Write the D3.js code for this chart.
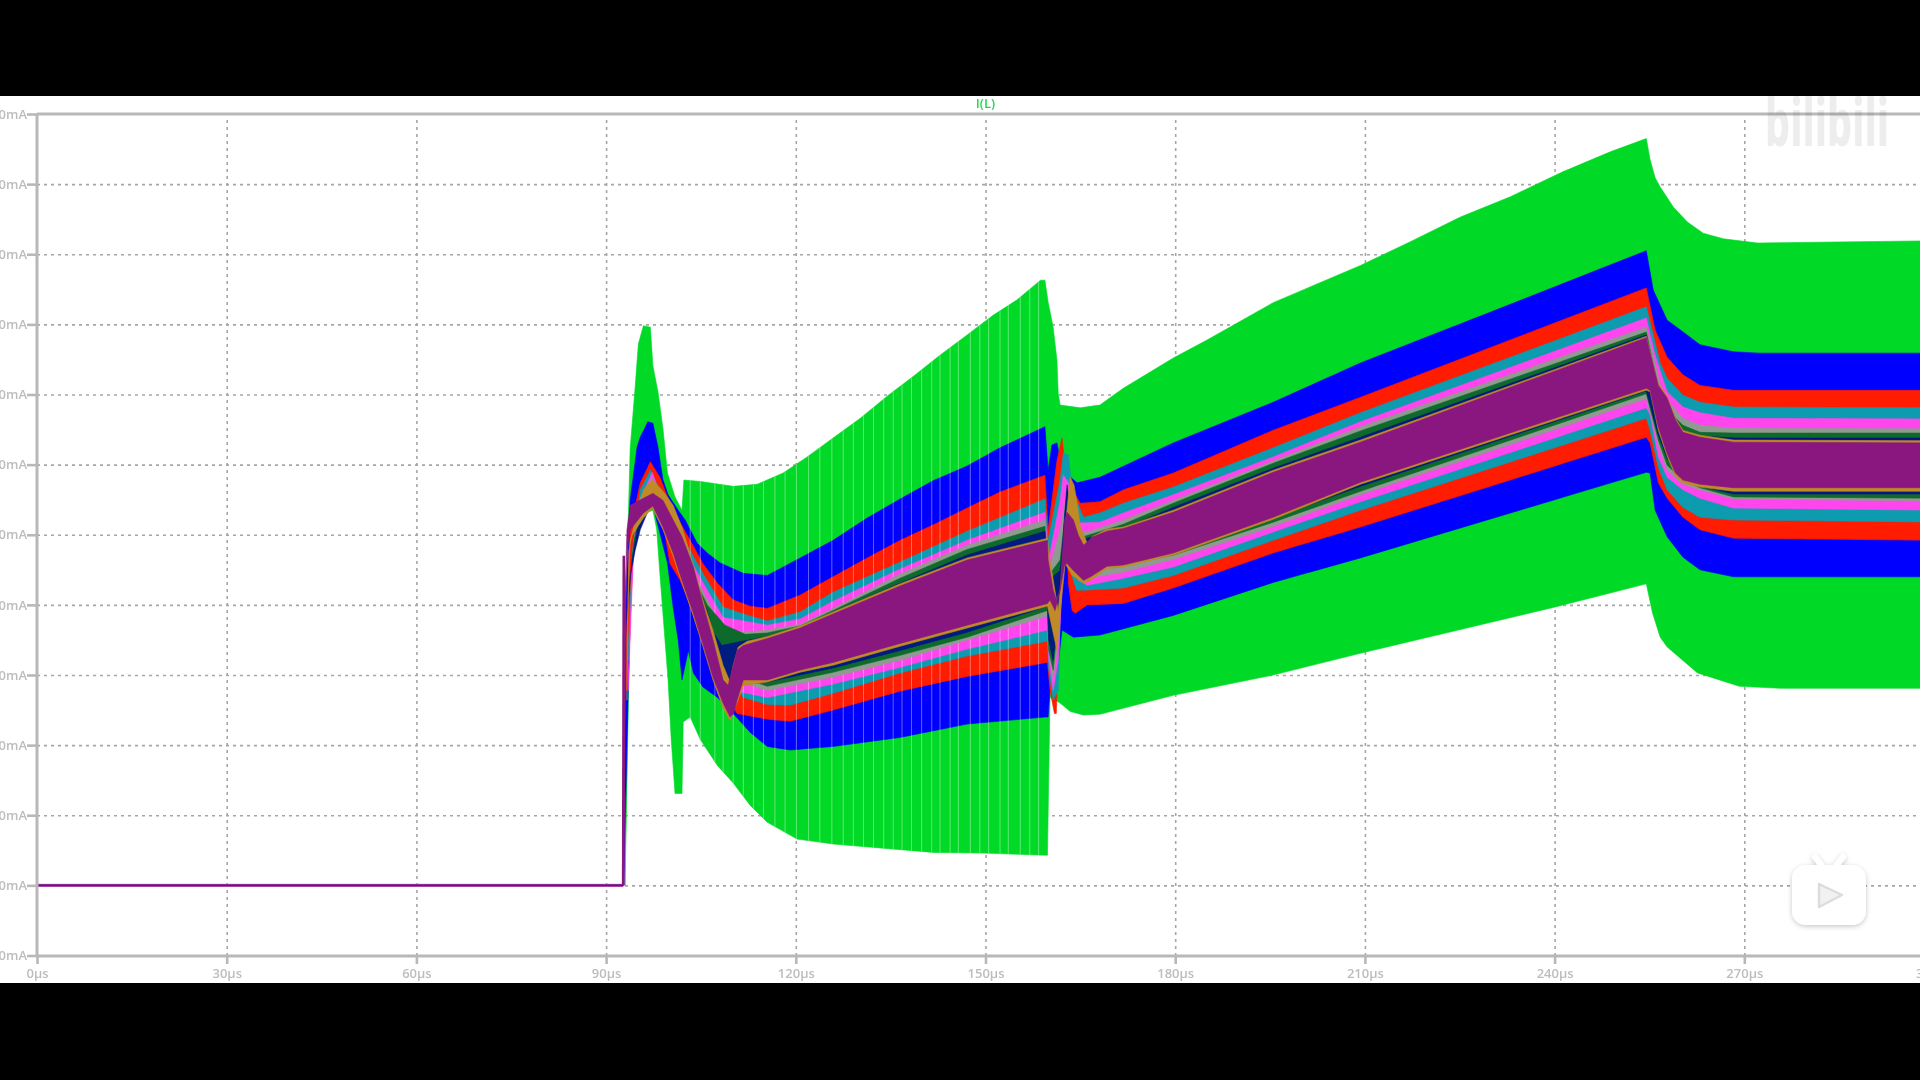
<!DOCTYPE html>
<html><head><meta charset="utf-8">
<script src="https://cdn.jsdelivr.net/npm/d3@7/dist/d3.min.js"></script>
<style>html,body{margin:0;padding:0;background:#000;overflow:hidden}svg{display:block}</style>
</head><body><svg id="c" width="1920" height="1080"></svg>
<script>
const title = "I(L)";
const xTicks = [0,30,60,90,120,150,180,210,240,270,300];
const yTicks = [1100,1000,900,800,700,600,500,400,300,200,100,0,-100];
const baselineTrace = [[0,0],[92.7,0]];
const riseTrace = [[92.7,0],[92.8,470]];
// switching-ripple gaps visible on the wide trace (µs)
const gapTimes = [103.3,104.9,107.2,108.5,110.1,111.7,113.3,114.9,116.7,118.3,120.1,122,123.8,125.7,127.5,129.1,130.7,132.3,133.9,135.4,136.8,138.3,139.9,141.5,142.8,144.4,145.7,147.6,149.1,150.5,152.3,153.6,155.5,157,158.4];

// envelopes: [time µs, current mA]
const greenUpper = [[93,0],[93.5,519],[93.8,622],[94.6,711],[95.1,772],[95.9,798],[97,796],[97.4,741],[98.2,704],[99,651],[99.7,588],[100.9,554],[102,535],[102.3,578],[104.9,576],[110.1,569],[113.9,572],[118,588],[121.8,611],[125.9,638],[130.2,666],[134.5,698],[138.6,726],[142.8,756],[147.1,785],[151.2,813],[155,835],[158.7,863],[159.4,863],[159.9,832],[160.7,796],[161.3,749],[161.5,702],[161.8,685],[165,681],[168.1,685],[171.8,709],[179.7,752],[185.1,778],[195.5,831],[209.3,884],[217.2,918],[225.1,953],[233,982],[240.9,1016],[248.8,1046],[254.5,1065],[255.1,1035],[255.9,1009],[256.7,996],[258.8,967],[261,946],[263.5,930],[266.7,922],[272.1,916],[297.8,919],[301,919]];
const greenLower = [[93,0],[93.5,245],[93.8,400],[94.3,492],[95.4,528],[97.4,535],[98,508],[98.5,445],[99.8,293],[100.3,208],[100.9,131],[102,131],[102.2,233],[103.3,240],[104.9,208],[107.6,171],[110.1,146],[112.8,114],[115.5,90],[120.2,66],[125.9,59],[133.8,53],[141.7,47],[149.6,46],[159.4,43],[159.8,43],[160.2,268],[161.8,260],[163.4,248],[165.5,243],[168.1,244],[179.7,271],[195.5,300],[209.3,331],[240.1,397],[248.8,417],[254.5,430],[255.5,388],[256.7,354],[257.8,340],[262.6,303],[269.2,284],[275.7,281],[301,281]];
const blueUpper = [[92.8,0],[93.1,407],[93.8,549],[94.9,625],[95.4,639],[96.6,661],[97.4,659],[98.2,625],[99,578],[99.8,557],[101.4,535],[102.5,521],[104.4,488],[106,474],[108,460],[111.7,445],[115.5,442],[120.7,467],[125.9,492],[131.3,524],[136.5,551],[141.7,577],[147.1,598],[152.3,624],[159.4,654],[159.9,592],[160.5,628],[161.3,631],[162.1,592],[164.5,574],[168.1,582],[179.7,631],[195.5,689],[209.3,745],[230.3,819],[254.5,905],[255.6,849],[257.8,806],[259.9,792],[263,771],[268.3,761],[272.5,759],[301,759]];
const blueLower = [[92.8,0],[93.5,278],[93.8,378],[94.1,464],[94.7,507],[95.7,521],[97.4,542],[99.7,460],[100.6,397],[101.4,350],[102,293],[103,335],[103.8,303],[105.3,283],[107.6,268],[110.1,245],[112.8,218],[115.5,198],[119.1,193],[125.9,198],[136.5,211],[147.1,230],[159.4,240],[159.9,240],[160.2,278],[161.2,293],[162.1,364],[163.9,354],[168.1,357],[179.7,385],[195.5,432],[209.3,467],[254.5,589],[255.1,588],[255.9,535],[257.8,497],[260.3,468],[263,450],[268.3,440],[301,440]];
const redUpper = [[93.2,350],[93.8,507],[95.4,574],[97,604],[98.5,582],[99.7,554],[101.2,525],[103.3,492],[105.3,459],[107.6,431],[110.1,407],[112.8,398],[115.5,395],[120.7,414],[125.9,440],[131.3,467],[136.5,492],[141.7,514],[147.1,538],[152.3,561],[159.4,585],[159.9,507],[161.3,606],[162.1,638],[162.8,578],[165,545],[168.1,547],[171.8,564],[179.7,588],[195.5,649],[209.3,696],[254.5,852],[255.9,792],[257.8,753],[260.3,728],[263,713],[268.3,706],[301,706]];
const redLower = [[93.2,278],[93.8,378],[94.4,492],[95.4,535],[97.4,549],[99.3,502],[100.1,459],[101.7,435],[102.8,411],[104.4,368],[106,331],[108.5,283],[110.7,245],[115.5,237],[119.1,234],[125.9,250],[136.5,277],[147.1,298],[159.8,318],[160.2,278],[160.9,245],[161.2,245],[161.5,350],[162.1,507],[162.8,521],[163.1,431],[163.7,392],[164.2,388],[166.1,400],[171.8,402],[179.7,424],[195.5,474],[209.3,511],[254.5,639],[255.1,631],[256.4,574],[257.8,552],[260.3,525],[263,507],[268.3,495],[301,492]];
const tealUpper = [[93.5,335],[94.1,464],[95.4,564],[97,592],[98.5,564],[101.2,511],[105.3,445],[108.5,397],[111.7,387],[115.5,377],[120.7,390],[125.9,418],[136.5,461],[147.1,505],[159.4,551],[159.9,492],[161.8,578],[162.3,616],[163.1,614],[163.7,564],[165.5,525],[168.1,531],[171.8,545],[179.7,568],[195.5,624],[209.3,674],[254.5,825],[256.7,745],[257.8,723],[260.3,699],[263,689],[268.3,682],[301,681]];
const tealLower = [[93.5,321],[94.3,492],[95.4,532],[97.4,552],[99.3,514],[101.7,449],[104.4,385],[107.2,321],[111.7,268],[115.5,258],[119.1,257],[125.9,274],[136.5,303],[147.1,327],[159.8,348],[160,307],[160.7,264],[161.5,278],[162.1,464],[162.8,507],[163.4,449],[164.4,421],[165.8,421],[171.8,424],[179.7,442],[195.5,492],[209.3,535],[254.5,666],[255.1,649],[256.4,596],[257.8,564],[260.3,539],[263,525],[268.3,521],[301,518]];
const magentaUpper = [[93.5,293],[94.1,449],[95.4,549],[97.3,589],[99.7,525],[102.2,482],[106,421],[108.5,382],[111.7,377],[115.5,371],[120.7,380],[125.9,405],[136.5,451],[147.1,492],[159.4,532],[160,464],[161.8,549],[162.3,585],[163.1,575],[163.7,517],[166.1,517],[168.1,518],[171.8,531],[179.7,557],[195.5,611],[209.3,661],[254.5,809],[255.9,756],[257.8,704],[260.3,682],[263,674],[268.3,666],[301,665]];
const magentaLower = [[93.5,278],[94.4,492],[95.4,535],[97.3,557],[99.3,528],[101.7,471],[104.4,407],[106.9,350],[110.1,278],[115.5,268],[125.9,287],[136.5,311],[147.1,337],[159.8,364],[160,321],[160.7,278],[161.5,321],[162.5,492],[162.9,542],[163.7,492],[164.7,435],[166.1,428],[171.8,438],[179.7,454],[195.5,504],[209.3,547],[254.5,681],[255.1,671],[256.4,611],[257.8,582],[260.3,564],[263,552],[268.3,538],[301,535]];
const grayUpper = [[94.1,464],[95.4,552],[97.3,581],[99.7,517],[102.2,474],[106,407],[108.5,364],[111.7,361],[115.5,364],[120.7,372],[125.9,395],[136.5,444],[147.1,485],[159.4,521],[160,449],[161.8,507],[162.8,557],[163.7,507],[166.1,504],[171.8,521],[179.7,549],[195.5,605],[209.3,654],[254.5,796],[256.7,714],[257.8,692],[260.3,666],[263,656],[268.3,652],[301,651]];
const grayLower = [[94.1,464],[94.4,492],[95.4,535],[97.3,561],[99.3,535],[101.7,478],[104.4,421],[106.9,361],[110.1,293],[115.5,278],[125.9,297],[136.5,321],[147.1,350],[159.8,384],[160,335],[160.7,293],[161.5,350],[162.5,507],[162.9,557],[163.7,507],[164.7,449],[166.1,438],[171.8,447],[179.7,465],[195.5,512],[209.3,557],[254.5,694],[256.4,628],[257.8,592],[260.3,572],[263,564],[268.3,551],[301,548]];
const darkGreenUpper = [[94.1,464],[95.4,542],[97.3,575],[99.7,514],[102.2,469],[106,400],[108.8,371],[112,358],[115.5,360],[120.7,370],[125.9,392],[136.5,438],[147.1,479],[159.4,512],[160,442],[161.8,464],[162.8,542],[163.7,492],[166.1,499],[171.8,515],[179.7,545],[195.5,602],[209.3,648],[254.5,789],[256.7,699],[257.8,678],[260.3,656],[263,646],[268.3,645],[301,645]];
const darkGreenLower = [[94.1,464],[94.4,492],[95.4,532],[97.3,552],[99.3,535],[101.7,485],[104.4,421],[107.2,330],[110.4,300],[115.5,284],[125.9,304],[136.5,328],[147.1,354],[159.8,392],[160,335],[160.7,307],[161.5,378],[162.5,521],[162.9,564],[163.7,507],[164.7,457],[166.1,449],[171.8,457],[179.7,471],[195.5,518],[209.3,562],[254.5,701],[256.4,635],[257.8,599],[260.3,578],[263,567],[268.3,554],[301,552]];
const navyUpper = [[93.2,378],[94.1,464],[95.4,535],[97.3,567],[99.7,509],[102.2,464],[106,392],[106.9,362],[108.3,342],[110.9,347],[115.5,355],[120.7,368],[125.9,390],[136.5,431],[147.1,471],[159.4,505],[160,435],[161.8,449],[162.8,535],[163.7,485],[166.1,495],[171.8,509],[179.7,539],[195.5,595],[209.3,639],[254.5,785],[256.7,688],[257.8,674],[260.3,649],[263,641],[268.3,638],[301,638]];
const navyLower = [[93.2,378],[93.8,440],[94.6,478],[95.4,507],[97,542],[99.3,535],[101.7,492],[104.4,428],[106.9,350],[109.3,293],[110.4,285],[115.5,290],[125.9,310],[136.5,335],[147.1,361],[159.8,398],[160,350],[160.7,321],[161.5,392],[162.5,528],[162.9,571],[163.7,514],[164.7,471],[166.1,457],[171.8,464],[179.7,478],[195.5,524],[209.3,569],[254.5,705],[256.4,642],[257.8,609],[260.3,581],[263,569],[268.3,558],[301,558]];
const orangeUpper = [[93.3,350],[93.8,492],[95.9,564],[97.4,578],[99.3,559],[100.6,542],[102,511],[103.8,457],[105.3,407],[106.9,364],[108.5,314],[109.6,290],[110.1,314],[110.9,340],[112.3,348],[115.5,355],[120.7,370],[125.9,390],[136.5,430],[147.1,467],[159.8,495],[160.2,464],[161.5,392],[162.1,449],[162.8,528],[163.4,582],[164,571],[164.5,545],[165,511],[166.1,488],[167,498],[169.2,508],[171.8,511],[179.7,535],[195.5,592],[209.3,635],[254.5,783],[256.4,716],[257.8,698],[259.1,666],[260.3,649],[263,642],[268.3,635],[301,634]];
const orangeLower = [[93.3,264],[93.6,478],[94.1,499],[95.9,524],[97.3,538],[99,507],[100.6,469],[102,431],[103.8,384],[105.3,341],[106.9,293],[108.5,253],[109.6,235],[110.7,260],[111.7,285],[115.5,290],[120.7,304],[125.9,314],[136.5,341],[147.1,367],[159.8,398],[160.7,360],[161.3,335],[161.8,388],[162.6,459],[163.7,442],[165.5,431],[166.6,435],[169.2,452],[171.8,454],[179.7,471],[195.5,522],[209.3,572],[254.5,706],[255.1,704],[256.4,649],[257.8,612],[259.1,584],[260.3,574],[263,568],[268.3,562],[301,562]];
const purpleUpper = [[92.7,0],[93,407],[93.3,507],[93.8,542],[95.9,552],[97.4,559],[99,549],[100.6,521],[102,497],[103.8,454],[105.3,402],[106.9,350],[108.5,293],[109.3,285],[110.1,314],[110.7,335],[111.7,342],[115.5,352],[120.7,367],[125.9,387],[136.5,427],[147.1,464],[159.8,492],[159.9,464],[160.7,421],[161.2,407],[161.8,421],[162.5,521],[162.9,532],[163.9,521],[164.7,499],[165.5,485],[167,497],[169.2,505],[171.8,509],[179.7,532],[195.5,589],[209.3,632],[254.5,781],[256.4,713],[257.8,695],[259.1,664],[260.3,646],[263,639],[268.3,632],[301,631]];
const purpleLower = [[92.8,0],[93.2,464],[93.8,507],[95.9,531],[97.4,541],[99,511],[100.6,474],[102,435],[103.8,388],[105.3,345],[106.9,297],[108.5,260],[109.6,240],[110.2,245],[110.7,264],[111.7,293],[115.5,293],[120.7,307],[125.9,318],[136.5,345],[147.1,371],[159.8,402],[160.2,407],[161,392],[161.8,421],[162.5,457],[162.9,459],[163.9,449],[165.5,435],[166.6,440],[169.2,455],[171.8,457],[179.7,474],[195.5,525],[209.3,575],[254.5,709],[255.1,706],[256.4,654],[257.8,616],[259.1,588],[260.3,578],[263,572],[268.3,567],[301,567]];

const seriesColors = ["#00d926","#0000ff","#ff1a00","#0e9bb0","#ff45ee","#8f9a90","#0b6b2b","#001a80","#c08a26","#8a1580"];
const seriesUpper = [greenUpper,blueUpper,redUpper,tealUpper,magentaUpper,grayUpper,darkGreenUpper,navyUpper,orangeUpper,purpleUpper];
const seriesLower = [greenLower,blueLower,redLower,tealLower,magentaLower,grayLower,darkGreenLower,navyLower,orangeLower,purpleLower];

const svg = d3.select("#c");
const x = d3.scaleLinear().domain([0,300]).range([37,1934]);
const y = d3.scaleLinear().domain([-100,1100]).range([955.5,114]);
const line = d3.line().x(d=>x(d[0])).y(d=>y(d[1]));
const bandPath = (u,l)=>line(u.concat(l.slice().reverse()))+"Z";

svg.append("rect").attr("x",0).attr("y",96).attr("width",1920).attr("height",887).attr("fill","#fff");

const defs = svg.append("defs");
defs.append("clipPath").attr("id","plot").append("rect").attr("x",37).attr("y",114).attr("width",1883).attr("height",842);
defs.append("clipPath").attr("id","wide").append("path").attr("d",bandPath(greenUpper,greenLower));
defs.append("filter").attr("id","soft").append("feGaussianBlur").attr("stdDeviation",0.55);
const shadow = defs.append("filter").attr("id","shadow").attr("x","-20%").attr("y","-20%").attr("width","140%").attr("height","140%");
shadow.append("feDropShadow").attr("dx",0).attr("dy",1.5).attr("stdDeviation",2.5).attr("flood-color","#000").attr("flood-opacity",0.22);

const root = svg.append("g").attr("filter","url(#soft)");
const gridStyle = g=>{g.select(".domain").remove();g.selectAll("line").attr("stroke","#a6a6a6").attr("stroke-width",1.6).attr("stroke-dasharray","3 4");g.selectAll("text").remove();};
root.append("g").attr("transform","translate(0,956)")
  .call(d3.axisBottom(x).tickValues(xTicks.slice(1)).tickSize(-839)).call(gridStyle);
root.append("g").attr("transform","translate(37,0)")
  .call(d3.axisLeft(y).tickValues(yTicks.slice(1,-1)).tickSize(-1883)).call(gridStyle);

const plot = root.append("g").attr("clip-path","url(#plot)");
const bandIdx = d3.range(seriesColors.length);
bandIdx.slice(0,5).forEach(i=>plot.append("path").attr("d",bandPath(seriesUpper[i],seriesLower[i])).attr("fill",seriesColors[i]).attr("stroke",seriesColors[i]).attr("stroke-width",0.6));
plot.append("g").attr("clip-path","url(#wide)").selectAll("line").data(gapTimes).join("line")
  .attr("x1",d=>x(d)).attr("x2",d=>x(d)).attr("y1",y(1100)).attr("y2",y(0))
  .attr("stroke","#fff").attr("stroke-width",1).attr("stroke-opacity",0.38);
bandIdx.slice(5).forEach(i=>plot.append("path").attr("d",bandPath(seriesUpper[i],seriesLower[i])).attr("fill",seriesColors[i]).attr("stroke",seriesColors[i]).attr("stroke-width",0.6));
plot.append("path").attr("d",line(baselineTrace)).attr("fill","none").attr("stroke","#ff6cf0").attr("stroke-width",3.4);
plot.append("path").attr("d",line(baselineTrace)).attr("fill","none").attr("stroke","#5d1a6c").attr("stroke-width",2.2);
plot.append("path").attr("d",line(riseTrace)).attr("fill","none").attr("stroke","#8a1580").attr("stroke-width",2.6);

// frame and axes
const axisColor="#b8b8b8", textColor="#bdbdbd";
const xAxis = d3.axisBottom(x).tickValues(xTicks).tickSize(8).tickPadding(5).tickFormat(d=>d+"µs");
const yAxis = d3.axisLeft(y).tickValues(yTicks).tickSize(10).tickPadding(0).tickFormat(d=>d+"mA");
const styleAxis = g=>{g.select(".domain").remove();g.selectAll("line").attr("stroke",axisColor).attr("stroke-width",2.6);
  g.selectAll("text").attr("fill",textColor).attr("font-family","'Open Sans',sans-serif").attr("font-size",13).attr("font-weight",600);};
root.append("g").attr("transform","translate(0,956)").call(xAxis).call(styleAxis);
root.append("g").attr("transform","translate(37,0)").call(yAxis).call(styleAxis);
[[37,114,1920,114],[37,956,1920,956],[37,114,37,956]].forEach(s=>root.append("line")
  .attr("x1",s[0]).attr("y1",s[1]).attr("x2",s[2]).attr("y2",s[3]).attr("stroke",axisColor).attr("stroke-width",3));

root.append("text").attr("x",x(150)).attr("y",108).attr("text-anchor","middle").attr("fill","#22d94a")
  .attr("font-family","'Open Sans',sans-serif").attr("font-size",13).attr("font-weight",600).text(title);

// video-site overlays
root.append("text").attr("x",1765).attr("y",146).attr("textLength",124).attr("lengthAdjust","spacingAndGlyphs")
  .attr("fill","#000").attr("fill-opacity",0.07).attr("font-family","'Noto Sans',sans-serif").attr("font-weight",800).attr("font-size",66).text("bilibili");
const tv = root.append("g").attr("filter","url(#shadow)");
tv.append("rect").attr("x",1792).attr("y",865).attr("width",74).attr("height",60).attr("rx",14).attr("fill","#fff");
[[1815,857,1822,866],[1843,857,1836,866]].forEach(s=>tv.append("line").attr("x1",s[0]).attr("y1",s[1]).attr("x2",s[2]).attr("y2",s[3]).attr("stroke","#fff").attr("stroke-width",6).attr("stroke-linecap","round"));
root.append("path").attr("d","M1819 884 L1842 895 L1819 907 Z").attr("fill","#f1f1f1").attr("stroke","#dcdcdc").attr("stroke-width",2.4).attr("stroke-linejoin","round");
</script></body></html>
